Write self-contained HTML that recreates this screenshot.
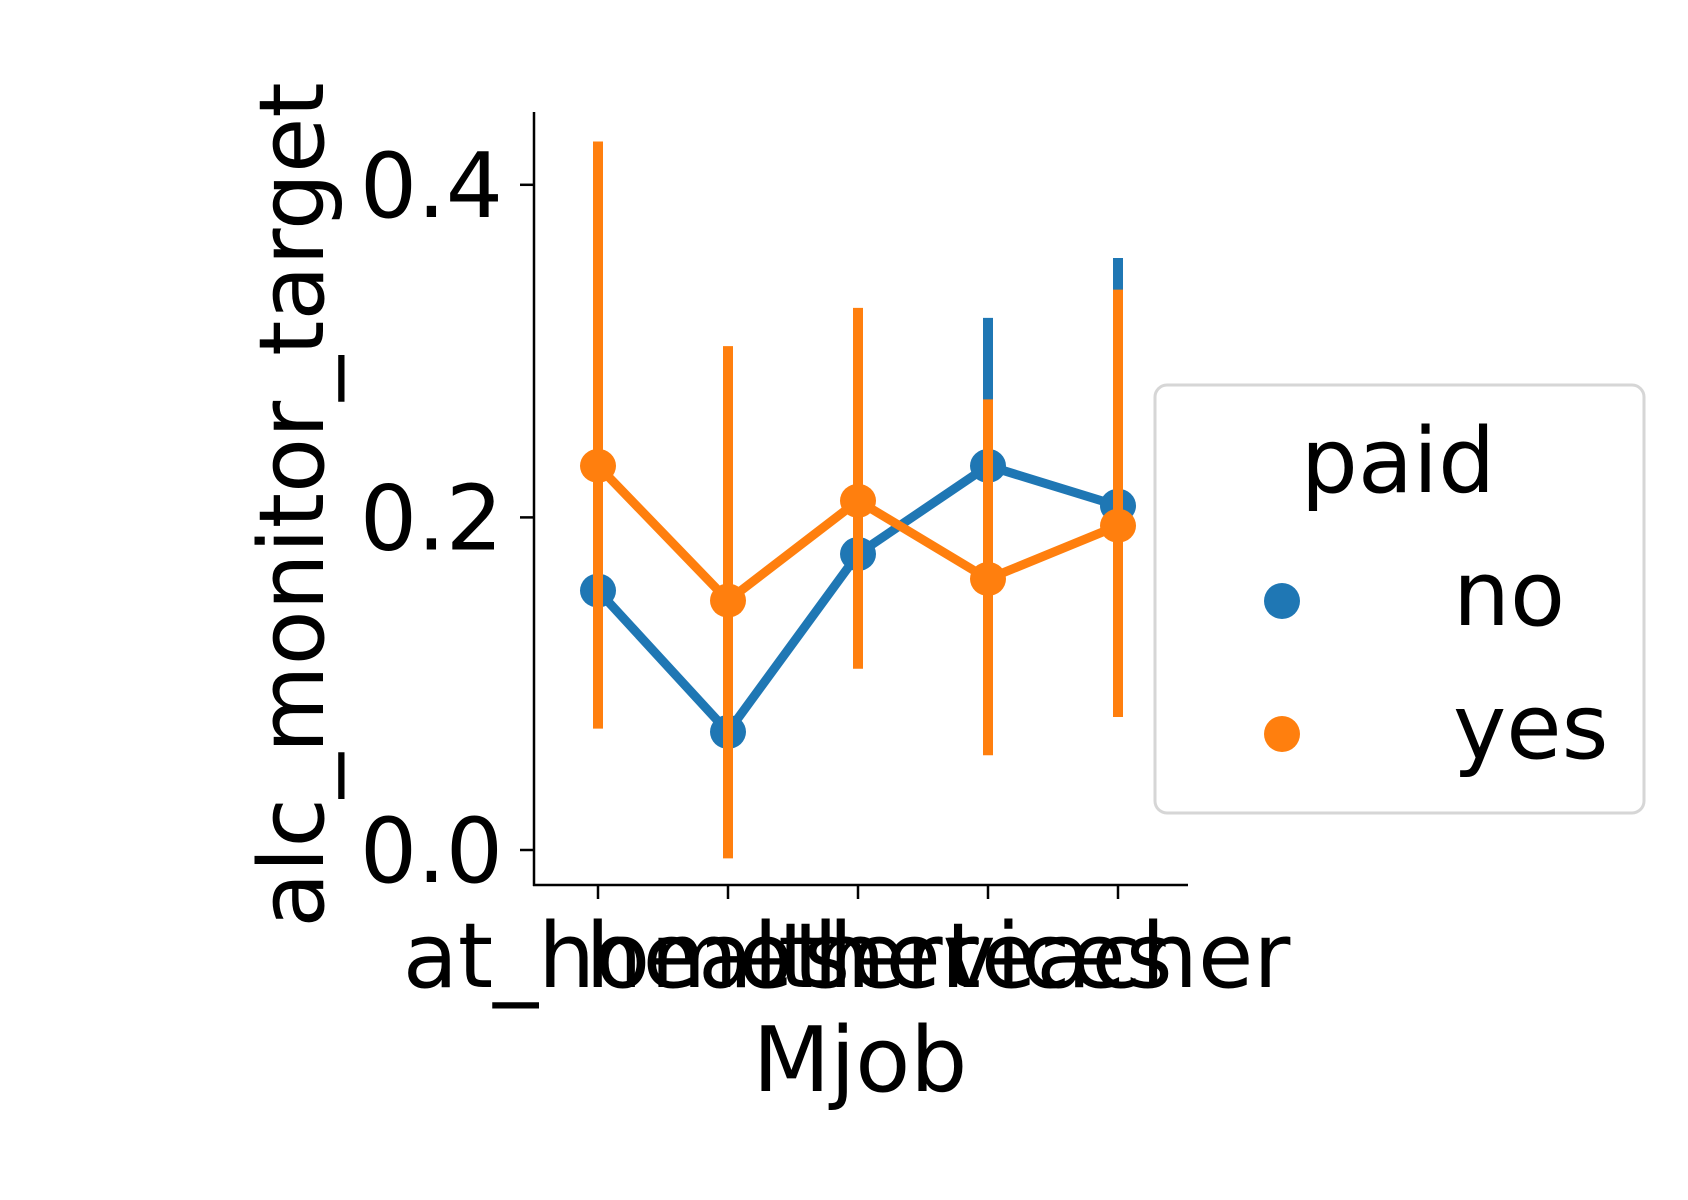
<!DOCTYPE html>
<html><head><meta charset="utf-8"><style>
html,body{margin:0;padding:0;background:#fff;}
svg{display:block;font-family:"DejaVu Sans","Liberation Sans",sans-serif;}
</style></head><body>
<svg id="chart" width="1688" height="1200" viewBox="0 0 1688 1200">
<rect width="1688" height="1200" fill="#fff"/>
<g id="axes"></g>
<g id="marks"></g>
<text x="298" y="505" font-size="90" text-anchor="middle" transform="rotate(-90 298 505)" dominant-baseline="middle">alc_monitor_target</text>
<text x="860" y="1091" font-size="90" text-anchor="middle">Mjob</text>
<g>
<rect x="1155" y="385" width="489" height="428" rx="12" fill="#fff" stroke="#d6d6d6" stroke-width="3"/>
<text x="1398" y="492" font-size="90" text-anchor="middle">paid</text>
<circle cx="1282" cy="601" r="18" fill="#1f77b4"/>
<text x="1453" y="625" font-size="90">no</text>
<circle cx="1282" cy="734" r="18" fill="#ff7f0e"/>
<text x="1453" y="758" font-size="90">yes</text>
</g>
</svg>
<script>
const categories = ["at_home","health","other","services","teacher"];
const noValues = [0.156, 0.071, 0.178, 0.231, 0.207];
const noLow = [0.08, 0.0, 0.12, 0.15, 0.08];
const noHigh = [0.23, 0.18, 0.24, 0.320, 0.356];
const yesValues = [0.231, 0.150, 0.210, 0.163, 0.195];
const yesLow = [0.073, -0.005, 0.109, 0.057, 0.080];
const yesHigh = [0.426, 0.303, 0.326, 0.271, 0.337];
const yTicks = [0.0, 0.2, 0.4];
const yTickLabels = ["0.0","0.2","0.4"];

const NS = "http://www.w3.org/2000/svg";
const X0 = 598, XSTEP = 130;
const Y0 = 850, YPER = 1663;
function xScale(i){ return X0 + i*XSTEP; }
function yScale(v){ return Y0 - v*YPER; }
function mk(tag, attrs, parent){ const e=document.createElementNS(NS,tag); for(const k in attrs) e.setAttribute(k,attrs[k]); parent.appendChild(e); return e; }

const axes = document.getElementById('axes');
const marks = document.getElementById('marks');
const sp1 = mk('line',{x1:534,y1:112,x2:534,y2:886,stroke:'#000','stroke-width':2.5},axes);


const sp2 = mk('line',{x1:533,y1:885,x2:1188,y2:885,stroke:'#000','stroke-width':2.5},axes);


yTicks.forEach((t,i)=>{
  const y=yScale(t);
  const tk=mk('line',{x1:520,y1:y,x2:534,y2:y,stroke:'#000','stroke-width':2.5},axes);
  
  
  const tl=mk('text',{x:503,y:y+32,'font-size':90,'text-anchor':'end'},axes);
  tl.textContent=yTickLabels[i];
  
  
});
categories.forEach((c,i)=>{
  const x=xScale(i);
  const tk=mk('line',{x1:x,y1:885,x2:x,y2:899,stroke:'#000','stroke-width':2.5},axes);
  
  
  const tl=mk('text',{x:x,y:987,'font-size':90,'text-anchor':'middle'},axes);
  tl.textContent=c;
  
  
});
function series(vals,lo,hi,color,name){
  const g=mk('g',{},marks);
  
  
  vals.forEach((v,i)=>{
    const e=mk('line',{x1:xScale(i),x2:xScale(i),y1:yScale(lo[i]),y2:yScale(hi[i]),stroke:color,'stroke-width':10},g);
    
    
  });
  const pl=mk('polyline',{points:vals.map((v,i)=>xScale(i)+','+yScale(v)).join(' '),fill:'none',stroke:color,'stroke-width':9,'stroke-linejoin':'round'},g);
  
  
  vals.forEach((v,i)=>{
    const p=mk('ellipse',{cx:xScale(i),cy:yScale(v),rx:18,ry:17,fill:color},g);
    
    
  });
}
series(noValues,noLow,noHigh,'#1f77b4','no');
series(yesValues,yesLow,yesHigh,'#ff7f0e','yes');
</script>
</body></html>
